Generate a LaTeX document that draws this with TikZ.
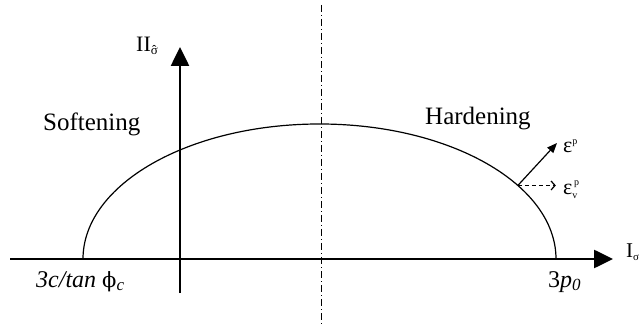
\documentclass[tikz,border=0pt]{standalone}
\usepackage{fontspec}
\setmainfont{Liberation Serif}
\newfontfamily\dvs{DejaVu Serif}
\usetikzlibrary{arrows.meta,calc}
\tikzset{
  axisline/.style={line width=2.6pt,-{Triangle[length=19pt,width=18pt]}},
  curveline/.style={line width=1.2pt},
  centerline/.style={line width=0.8pt,dash pattern=on 7pt off 3pt on 1pt off 3pt},
  lbl/.style={inner sep=0pt,anchor=base west,font=\fontsize{25}{30}\selectfont},
}
\begin{document}
\begin{tikzpicture}[x=1pt,y=1pt]
\useasboundingbox (0,0) rectangle (644,329);
% axes
\coordinate (hs) at (10,70);
\coordinate (he) at (613,70);
\coordinate (vs) at (180,36);
\coordinate (ve) at (180,282);
\coordinate (cs) at (321,324);
\coordinate (ce) at (321,4);
\draw[centerline] (cs) -- (ce);
\draw[axisline] (hs) -- (he);
\draw[axisline] (vs) -- (ve);
% yield surface
\coordinate (L) at (83,70);
\draw[curveline] (L) arc[start angle=180,end angle=0,x radius=236.5,y radius=135];
\coordinate (P) at ($(319.5,70)+(33:236.5 and 135)$);
\coordinate (Q) at (557,186);
\coordinate (R) at ($(P)+(38,0)$);
\draw[line width=1.2pt,-{Triangle[length=10pt,width=8pt]}] (P) -- (Q);
\draw[line width=1pt,dashed,dash pattern=on 4pt off 3pt,-{Straight Barb[length=4pt,width=9pt,line width=1.2pt]}] (P) -- (R);
% labels
\node[lbl] (soft) at (43,198) {Softening};
\node[lbl] (hard) at (425,204) {Hardening};
\node[lbl,font=\fontsize{22}{26}\selectfont] (II) at (136,277) {II\raisebox{-3pt}{\fontsize{13}{13}\selectfont\ooalign{σ\cr\hidewidth ˆ\hidewidth\cr}}};
\node[lbl,font=\fontsize{21}{24}\selectfont] (I) at (626,71) {I\raisebox{-3pt}{\fontsize{11}{11}\selectfont σ}};
\node[lbl,font=\fontsize{22}{26}\selectfont] (ep) at (563,176) {ε\raisebox{8pt}{\fontsize{10}{10}\selectfont p}};
\node[lbl,font=\fontsize{22}{26}\selectfont] (epv) at (563,134) {ε\rlap{\raisebox{-4pt}{\fontsize{10}{10}\selectfont v}}\raisebox{9pt}{\fontsize{10}{10}\selectfont\,p}};
\node[lbl,font=\fontsize{24}{28}\selectfont] (lp) at (36,42) {\textit{3c/tan} {\dvs\fontsize{21}{24}\selectfont ϕ}\raisebox{-4pt}{\fontsize{17}{20}\selectfont\textit{c}}};
\node[lbl,font=\fontsize{24}{28}\selectfont] (rp) at (548,42) {3\textit{p}\raisebox{-4pt}{\fontsize{17}{20}\selectfont\textit{0}}};
\end{tikzpicture}
\end{document}
